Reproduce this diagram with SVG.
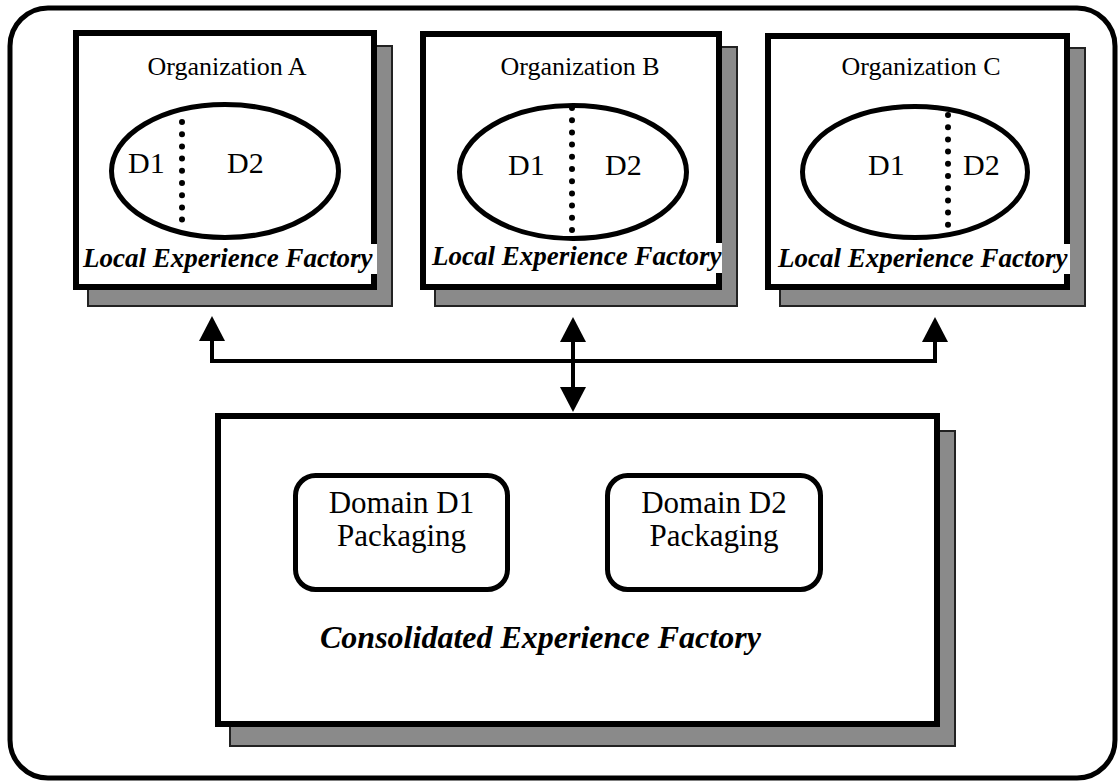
<svg xmlns="http://www.w3.org/2000/svg" width="1118" height="781" viewBox="0 0 1118 781">
<style>
.frame{fill:#fff;stroke:#000;stroke-width:5}
.shadow{fill:#8a8a8a;stroke:#222;stroke-width:2}
.box{fill:#fff;stroke:#000;stroke-width:6}
.ell{fill:#fff;stroke:#000;stroke-width:5}
.dots{fill:none;stroke:#000;stroke-width:6;stroke-linecap:round;stroke-dasharray:0 12.2}
.dbox{fill:#fff;stroke:#000;stroke-width:5}
.t{font-family:"Liberation Serif","Times New Roman",serif;fill:#000}
.org{font-size:26px}
.d{font-size:30px}
.lef{font-size:27px;font-weight:bold;font-style:italic}
.pk{font-size:31px}
.cef{font-size:32px;font-weight:bold;font-style:italic}
.conn{fill:none;stroke:#000;stroke-width:4}
</style>
<defs>
<marker id="ah" viewBox="0 0 25 26" markerWidth="25" markerHeight="26" refX="0" refY="13" orient="auto-start-reverse" markerUnits="userSpaceOnUse">
<path d="M0,0 L25,13 L0,26 Z" fill="#000"/>
</marker>
</defs>
<rect class="frame" x="10" y="8" width="1105" height="770" rx="38" ry="38"/>

<g id="orgA">
<rect class="shadow" x="88" y="46" width="304" height="260"/>
<rect class="box" x="76" y="33" width="298" height="254"/>
<text class="t org" x="227" y="75" text-anchor="middle">Organization A</text>
<ellipse class="ell" cx="225" cy="171" rx="113.5" ry="66.5"/>
<line class="dots" x1="182" y1="122" x2="182" y2="220"/>
<text class="t d" x="128" y="173">D1</text>
<text class="t d" x="227" y="173">D2</text>
<rect x="80" y="244" width="297" height="30" fill="#fff"/>
<text class="t lef" x="83" y="267">Local Experience Factory</text>
</g>

<g id="orgB">
<rect class="shadow" x="435" y="47" width="302" height="259"/>
<rect class="box" x="423" y="34" width="296" height="253"/>
<text class="t org" x="580" y="75" text-anchor="middle">Organization B</text>
<ellipse class="ell" cx="573" cy="172" rx="113.5" ry="66.5"/>
<line class="dots" x1="572" y1="108" x2="572" y2="230"/>
<text class="t d" x="508" y="175">D1</text>
<text class="t d" x="605" y="175">D2</text>
<rect x="427" y="243" width="295" height="30" fill="#fff"/>
<text class="t lef" x="432" y="265">Local Experience Factory</text>
</g>

<g id="orgC">
<rect class="shadow" x="780" y="48" width="305" height="258"/>
<rect class="box" x="768" y="36" width="299" height="251"/>
<text class="t org" x="921" y="75" text-anchor="middle">Organization C</text>
<ellipse class="ell" cx="915" cy="172" rx="112.5" ry="65.5"/>
<line class="dots" x1="948" y1="115" x2="948" y2="225"/>
<text class="t d" x="868" y="175">D1</text>
<text class="t d" x="963" y="175">D2</text>
<rect x="773" y="244" width="297" height="30" fill="#fff"/>
<text class="t lef" x="778" y="267">Local Experience Factory</text>
</g>

<g id="consolidated">
<rect class="shadow" x="230" y="431" width="725" height="315"/>
<rect class="box" x="218" y="416" width="719" height="308"/>
<text class="t cef" x="320" y="648">Consolidated Experience Factory</text>
</g>

<g id="domainD1">
<rect class="dbox" x="295.5" y="475.5" width="212" height="114" rx="20" ry="20"/>
<text class="t pk" x="401.5" y="513" text-anchor="middle">Domain D1</text>
<text class="t pk" x="401.5" y="546" text-anchor="middle">Packaging</text>
</g>

<g id="domainD2">
<rect class="dbox" x="607.5" y="475.5" width="213" height="114" rx="20" ry="20"/>
<text class="t pk" x="714" y="513" text-anchor="middle">Domain D2</text>
<text class="t pk" x="714" y="546" text-anchor="middle">Packaging</text>
</g>

<g id="connectors">
<path class="conn" d="M212,341 V361 H935 V342" marker-start="url(#ah)" marker-end="url(#ah)"/>
<path class="conn" d="M573,342 V387" marker-start="url(#ah)" marker-end="url(#ah)"/>
</g>
</svg>
